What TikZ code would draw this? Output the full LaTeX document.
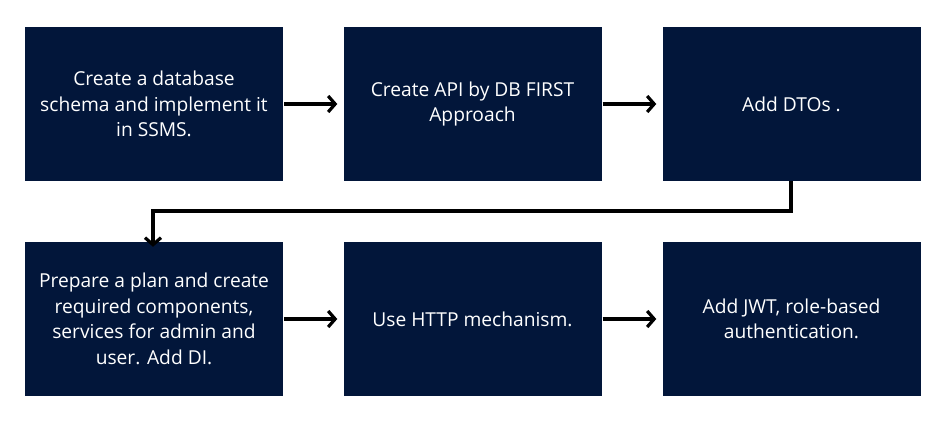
\documentclass[tikz,border=0pt]{standalone}
\usepackage{fontspec}
\setmainfont{Open Sans}
\usetikzlibrary{arrows.meta}
\definecolor{navy}{RGB}{2,22,58}
\begin{document}
\begin{tikzpicture}[x=1pt,y=-1pt,
  box/.style={fill=navy,draw=none,minimum width=258pt,minimum height=154pt,
    text=white,align=center,font=\fontsize{19.2}{25.5}\selectfont,inner sep=0pt},
  conn/.style={line width=3.2pt,-{Straight Barb[length=7pt,width=16pt,line width=3.2pt]}}]
\useasboundingbox (0,0) rectangle (943,423);
\node[box] (b1) at (154,104) {Create a database\\schema and implement it\\in SSMS.};
\node[box] (b2) at (472.5,104) {Create API by DB FIRST\\Approach};
\node[box] (b3) at (791.5,104) {Add DTOs .};
\node[box] (b4) at (154,319) {Prepare a plan and create\\required components,\\services for admin and\\user. Add DI.};
\node[box] (b5) at (472.5,319) {Use HTTP mechanism.};
\node[box] (b6) at (791.5,319) {Add JWT, role-based\\authentication.};
\coordinate (c1) at (791,211);
\coordinate (c2) at (153,211);
\draw[conn] ([xshift=1pt]b1.east) -- ([xshift=-6pt]b2.west);
\draw[conn] ([xshift=1pt]b2.east) -- ([xshift=-6pt]b3.west);
\draw[conn] ([xshift=1pt]b4.east) -- ([xshift=-6pt]b5.west);
\draw[conn] ([xshift=1pt]b5.east) -- ([xshift=-6pt]b6.west);
\draw[conn] (b3.south -| c1) -- (c1) -- (c2) -- ([yshift=-5pt]b4.north -| c2);
\end{tikzpicture}
\end{document}
